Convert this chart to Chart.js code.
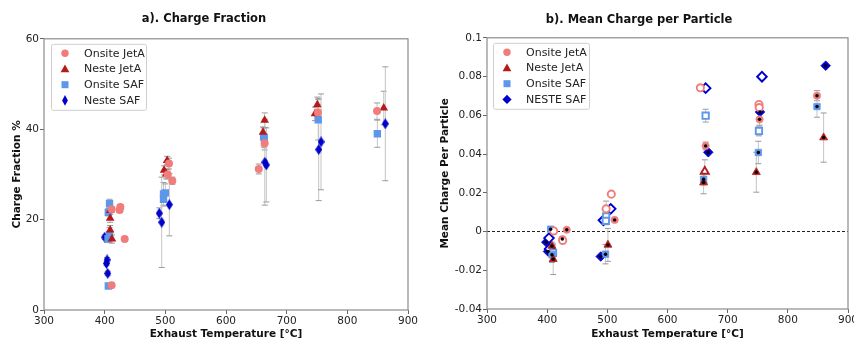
<!DOCTYPE html>
<html lang="en">
<head>
  <meta charset="UTF-8">
  <title>Charge Fraction / Mean Charge per Particle</title>
  <script src="https://cdn.jsdelivr.net/npm/chart.js@4.4.1/dist/chart.umd.min.js"></script>
  <style>
    html, body { margin: 0; padding: 0; background: #fff; overflow: hidden; width: 854px; height: 338px; }
    canvas { position: absolute; top: 0; }
  </style>
</head>
<body>

  <canvas id="cf" width="430" height="346" style="left:0"></canvas>
  <canvas id="mc" width="430" height="346" style="left:430px"></canvas>

  <script>

  // a) charge fraction in %
  const cfOnsiteJetAX = [411.5, 424.7, 425.8, 433, 411.5, 504, 506, 511.5, 654, 663.7, 751.6, 849];
  const cfOnsiteJetAY = [22.3, 22.1, 22.8, 15.7, 5.5, 30.0, 32.4, 28.6, 31.2, 36.9, 43.7, 44.0];
  const cfOnsiteJetAErr = [0.6, 0.5, 0.5, 0.4, 0.3, 1.0, 1.2, 0.8, 1.1, 1.5, 1.8, 1.8];

  const cfNesteJetAX = [409, 409, 409, 412, 498, 501.6, 503, 661, 663.7, 746.7, 750.5, 860];
  const cfNesteJetAY = [22.0, 20.3, 17.7, 15.7, 30.9, 30.1, 33.1, 39.3, 42.0, 43.4, 45.4, 44.7];
  const cfNesteJetAErr = [0.8, 0.9, 1.0, 0.9, 1.0, 1.1, 0.9, 1.2, 1.6, 1.5, 1.7, 3.7];

  const cfOnsiteSafX = [408, 406, 408, 405.5, 406, 497, 500, 497, 662, 663, 752, 849.5];
  const cfOnsiteSafY = [23.5, 21.6, 16.6, 15.8, 5.3, 25.7, 25.9, 24.5, 38.3, 38.1, 42.1, 39.0];
  const cfOnsiteSafErr = [1.0, 0.8, 1.7, 0.8, 0.3, 2.5, 2.0, 1.5, 2.0, 2.2, 4.5, 3.0];

  const cfNesteSafX = [400, 404, 403, 405, 490, 494, 506.6, 664, 666.5, 752.8, 756.6, 862.6];
  const cfNesteSafY = [16.1, 11.1, 10.3, 8.1, 21.4, 19.4, 23.3, 32.7, 32.1, 35.5, 37.2, 41.2];
  const cfNesteSafErr = [0.5, 0.5, 0.5, 0.5, 1.2, 10.0, 6.9, 9.5, 8.2, 11.3, 10.6, 12.6];

  // b) mean charge per particle, open = hollow marker
  const mcOnsiteJetAX = [410.8, 425.2, 425.8, 432.6, 498, 506.6, 512.2, 654.6, 663.4, 752, 752.5, 753, 848.5];
  const mcOnsiteJetAY = [0.0003, -0.0039, -0.0046, 0.0009, 0.0117, 0.0193, 0.006, 0.0742, 0.0442, 0.0656, 0.064, 0.0579, 0.0701];
  const mcOnsiteJetAOpen = [1, 0, 1, 0, 1, 1, 0, 1, 0, 1, 1, 0, 0];
  const mcOnsiteJetAErr = [0.001, 0.001, 0.001, 0.001, 0.004, 0.001, 0.001, 0.001, 0.002, 0.001, 0.001, 0.003, 0.0026];

  const mcNesteJetAX = [408, 410, 501, 660, 662, 747.6, 859.5];
  const mcNesteJetAY = [-0.0075, -0.0143, -0.0069, 0.0253, 0.031, 0.0306, 0.0485];
  const mcNesteJetAOpen = [0, 0, 0, 0, 1, 0, 0];
  const mcNesteJetAErr = [0.002, 0.0079, 0.0085, 0.0058, 0.006, 0.0103, 0.0127];

  const mcOnsiteSafX = [405.8, 409.7, 408, 497, 498, 497.5, 660, 663.4, 752, 751, 848.5];
  const mcOnsiteSafY = [0.0012, -0.011, -0.012, -0.0117, 0.0077, 0.0055, 0.027, 0.0598, 0.0519, 0.0408, 0.0645];
  const mcOnsiteSafOpen = [0, 1, 0, 0, 1, 1, 0, 1, 1, 0, 0];
  const mcOnsiteSafErr = [0.001, 0.004, 0.004, 0.005, 0.003, 0.002, 0.003, 0.0033, 0.0025, 0.0058, 0.0055];

  const mcNesteSafX = [398.6, 403, 401.4, 404, 489, 493.5, 505.6, 663.4, 667.8, 757, 753.7, 862.9];
  const mcNesteSafY = [-0.0055, -0.0034, -0.0103, -0.009, -0.0129, 0.0058, 0.0117, 0.074, 0.0409, 0.0799, 0.0617, 0.0856];
  const mcNesteSafOpen = [0, 1, 0, 1, 0, 1, 1, 1, 0, 1, 0, 0];

  const FONT = '"DejaVu Sans", Verdana, sans-serif';
  const C_ONSITE_JETA = '#F07C7C';
  const C_NESTE_JETA = '#B41A1A';
  const C_ONSITE_SAF = '#5C97EC';
  const C_NESTE_SAF = '#0000CD';

  function pts(xs, ys) {
    return xs.map((x, i) => ({ x: x, y: ys[i] }));
  }

  // matplotlib style thin diamond as an image point style
  function thinDiamond(w, h, color) {
    const c = document.createElement('canvas');
    c.width = w; c.height = h;
    const g = c.getContext('2d');
    g.fillStyle = color;
    g.beginPath();
    g.moveTo(w / 2, 0); g.lineTo(w, h / 2); g.lineTo(w / 2, h); g.lineTo(0, h / 2);
    g.closePath();
    g.fill();
    return c;
  }

  function marker(ctx, style, x, y, r, color) {
    ctx.fillStyle = color;
    ctx.beginPath();
    if (style === 'circle') {
      ctx.arc(x, y, r, 0, Math.PI * 2);
    } else if (style === 'triangle') {
      ctx.moveTo(x, y - r); ctx.lineTo(x + r * 0.95, y + r * 0.7); ctx.lineTo(x - r * 0.95, y + r * 0.7);
    } else if (style === 'rect') {
      ctx.rect(x - r, y - r, 2 * r, 2 * r);
    } else if (style === 'thin') {
      ctx.moveTo(x, y - r * 1.3); ctx.lineTo(x + r * 0.7, y); ctx.lineTo(x, y + r * 1.3); ctx.lineTo(x - r * 0.7, y);
    } else {
      ctx.moveTo(x, y - r * 1.1); ctx.lineTo(x + r * 1.1, y); ctx.lineTo(x, y + r * 1.1); ctx.lineTo(x - r * 1.1, y);
    }
    ctx.closePath();
    ctx.fill();
  }

  const frame = {
    id: 'frame',
    afterDatasetsDraw(chart) {
      const { ctx, chartArea: a } = chart;
      ctx.save();
      ctx.strokeStyle = '#8c8c8c';
      ctx.lineWidth = 1.2;
      ctx.strokeRect(a.left, a.top, a.right - a.left, a.bottom - a.top);
      ctx.restore();
    }
  };

  const errorBars = {
    id: 'errorBars',
    beforeDatasetsDraw(chart) {
      const ctx = chart.ctx, ys = chart.scales.y;
      ctx.save();
      ctx.lineWidth = 1;
      chart.data.datasets.forEach((ds, i) => {
        if (!ds.err) return;
        chart.getDatasetMeta(i).data.forEach((pt, j) => {
          const v = ds.data[j].y, e = ds.err[j];
          const top = ys.getPixelForValue(v + e), bot = ys.getPixelForValue(v - e);
          ctx.strokeStyle = '#c4c4c4';
          ctx.beginPath();
          ctx.moveTo(pt.x, top); ctx.lineTo(pt.x, bot);
          ctx.stroke();
          ctx.strokeStyle = '#9a9a9a';
          ctx.beginPath();
          ctx.moveTo(pt.x - 3, top); ctx.lineTo(pt.x + 3, top);
          ctx.moveTo(pt.x - 3, bot); ctx.lineTo(pt.x + 3, bot);
          ctx.stroke();
        });
      });
      ctx.restore();
    }
  };

  const zeroLine = {
    id: 'zeroLine',
    beforeDatasetsDraw(chart) {
      const { ctx, chartArea: a } = chart;
      const y0 = chart.scales.y.getPixelForValue(0);
      ctx.save();
      ctx.strokeStyle = '#222';
      ctx.lineWidth = 1;
      ctx.setLineDash([3, 2]);
      ctx.beginPath();
      ctx.moveTo(a.left, y0); ctx.lineTo(a.right, y0);
      ctx.stroke();
      ctx.restore();
    }
  };

  // black centre dot on the filled markers of panel b
  const centreDots = {
    id: 'centreDots',
    afterDatasetsDraw(chart) {
      const ctx = chart.ctx;
      ctx.save();
      ctx.fillStyle = '#000';
      chart.data.datasets.forEach((ds, i) => {
        if (!ds.open) return;
        chart.getDatasetMeta(i).data.forEach((pt, j) => {
          if (ds.open[j]) return;
          ctx.beginPath();
          ctx.arc(pt.x, pt.y, 1.7, 0, Math.PI * 2);
          ctx.fill();
        });
      });
      ctx.restore();
    }
  };

  const boxLegend = {
    id: 'boxLegend',
    afterDraw(chart, args, opts) {
      const { ctx, chartArea: a } = chart;
      const bx = a.left + opts.dx, by = a.top + 5;
      ctx.save();
      ctx.fillStyle = 'rgba(255,255,255,0.85)';
      ctx.strokeStyle = '#cfcfcf';
      ctx.lineWidth = 1;
      ctx.beginPath();
      ctx.roundRect(bx + 0.5, by + 0.5, opts.w, 66, 2);
      ctx.fill();
      ctx.stroke();
      ctx.font = '11px ' + FONT;
      ctx.textBaseline = 'middle';
      chart.data.datasets.forEach((ds, i) => {
        const y = by + 9.5 + i * 15.7;
        marker(ctx, ds.legendStyle, bx + 14, y, ds.legendSize, ds.borderColor);
        ctx.fillStyle = '#222';
        ctx.fillText(ds.label, bx + 33, y + 0.5);
      });
      ctx.restore();
    }
  };

  function axes(yOpts, yWidth, yTitle, yTitlePad, xHeight) {
    const tickFont = { family: FONT, size: 10.5 };
    const titleFont = { family: FONT, size: 10.5, weight: 'bold' };
    const grid = { display: true, drawOnChartArea: false, drawTicks: true, tickLength: 4, color: '#666' };
    return {
      x: {
        type: 'linear', min: 300, max: 900,
        grid: grid, border: { display: false },
        ticks: { stepSize: 100, font: tickFont, color: '#222', padding: 1, maxRotation: 0 },
        title: { display: true, text: 'Exhaust Temperature [°C]', font: titleFont, color: '#111', padding: { top: 0, bottom: 5 } },
        afterFit(s) { s.height = xHeight; }
      },
      y: Object.assign({
        type: 'linear',
        grid: grid, border: { display: false },
        title: { display: true, text: yTitle, font: titleFont, color: '#111', padding: { top: yTitlePad, bottom: 0 } },
        afterFit(s) { s.width = yWidth; }
      }, yOpts)
    };
  }

  function titleOpts(text, top, bottom) {
    return {
      display: true, text: text, color: '#111',
      font: { family: FONT, size: 11.5, weight: 'bold' },
      padding: { top: top, bottom: bottom }
    };
  }

  // ---- a) Charge Fraction
  const cfDatasets = [
    { label: 'Onsite JetA', data: pts(cfOnsiteJetAX, cfOnsiteJetAY), err: cfOnsiteJetAErr,
      pointStyle: 'circle', pointRadius: 4, backgroundColor: C_ONSITE_JETA, borderColor: C_ONSITE_JETA,
      legendStyle: 'circle', legendSize: 3.7 },
    { label: 'Neste JetA', data: pts(cfNesteJetAX, cfNesteJetAY), err: cfNesteJetAErr,
      pointStyle: 'triangle', pointRadius: 5, backgroundColor: C_NESTE_JETA, borderColor: C_NESTE_JETA,
      legendStyle: 'triangle', legendSize: 4.6 },
    { label: 'Onsite SAF', data: pts(cfOnsiteSafX, cfOnsiteSafY), err: cfOnsiteSafErr,
      pointStyle: 'rect', pointRadius: 5.2, backgroundColor: C_ONSITE_SAF, borderColor: C_ONSITE_SAF,
      legendStyle: 'rect', legendSize: 3.5 },
    { label: 'Neste SAF', data: pts(cfNesteSafX, cfNesteSafY), err: cfNesteSafErr,
      pointStyle: thinDiamond(7, 11, C_NESTE_SAF), pointRadius: 5, backgroundColor: C_NESTE_SAF, borderColor: C_NESTE_SAF,
      legendStyle: 'thin', legendSize: 4.1 }
  ];

  new Chart(document.getElementById('cf'), {
    type: 'scatter',
    data: { datasets: cfDatasets },
    options: {
      responsive: false, animation: false,
      layout: { padding: { left: 0, right: 22, top: 0, bottom: 0 } },
      elements: { point: { borderWidth: 0 } },
      scales: axes({ min: 0, max: 60, ticks: { stepSize: 20, font: { family: FONT, size: 10.5 }, color: '#222', padding: 1 } },
                   44, 'Charge Fraction %', 10.5, 36),
      plugins: {
        legend: { display: false },
        tooltip: { enabled: false },
        title: titleOpts('a). Charge Fraction', 12, 13),
        boxLegend: { dx: 7, w: 95 }
      }
    },
    plugins: [errorBars, frame, boxLegend]
  });

  // ---- b) Mean Charge per Particle
  function openStyle(open, color) {
    return {
      pointBackgroundColor: open.map(o => o ? '#fff' : color),
      pointBorderColor: color,
      pointBorderWidth: open.map(o => o ? 1.9 : 0.8)
    };
  }

  const mcDatasets = [
    Object.assign({ label: 'Onsite JetA', data: pts(mcOnsiteJetAX, mcOnsiteJetAY), err: mcOnsiteJetAErr, open: mcOnsiteJetAOpen,
      pointStyle: 'circle', pointRadius: 3.6, borderColor: C_ONSITE_JETA, backgroundColor: C_ONSITE_JETA,
      legendStyle: 'circle', legendSize: 3.7 }, openStyle(mcOnsiteJetAOpen, C_ONSITE_JETA)),
    Object.assign({ label: 'Neste JetA', data: pts(mcNesteJetAX, mcNesteJetAY), err: mcNesteJetAErr, open: mcNesteJetAOpen,
      pointStyle: 'triangle', pointRadius: 4.6, borderColor: C_NESTE_JETA, backgroundColor: C_NESTE_JETA,
      legendStyle: 'triangle', legendSize: 4.6 }, openStyle(mcNesteJetAOpen, C_NESTE_JETA)),
    Object.assign({ label: 'Onsite SAF', data: pts(mcOnsiteSafX, mcOnsiteSafY), err: mcOnsiteSafErr, open: mcOnsiteSafOpen,
      pointStyle: 'rect', pointRadius: 4.5, borderColor: C_ONSITE_SAF, backgroundColor: C_ONSITE_SAF,
      legendStyle: 'rect', legendSize: 3.5 }, openStyle(mcOnsiteSafOpen, C_ONSITE_SAF)),
    Object.assign({ label: 'NESTE SAF', data: pts(mcNesteSafX, mcNesteSafY), open: mcNesteSafOpen,
      pointStyle: 'rectRot', pointRadius: 4.8, borderColor: C_NESTE_SAF, backgroundColor: C_NESTE_SAF,
      legendStyle: 'diamond', legendSize: 4.2 }, openStyle(mcNesteSafOpen, C_NESTE_SAF))
  ];

  new Chart(document.getElementById('mc'), {
    type: 'scatter',
    data: { datasets: mcDatasets },
    options: {
      responsive: false, animation: false,
      layout: { padding: { left: 0, right: 12, top: 0, bottom: 0 } },
      scales: axes({ min: -0.04, max: 0.1,
                     ticks: { stepSize: 0.02, font: { family: FONT, size: 10.5 }, color: '#222', padding: 1,
                              callback: v => String(+v.toFixed(2)) } },
                   57, 'Mean Charge Per Particle', 9.4, 37),
      plugins: {
        legend: { display: false },
        tooltip: { enabled: false },
        title: titleOpts('b). Mean Charge per Particle', 13, 11),
        boxLegend: { dx: 6, w: 96 }
      }
    },
    plugins: [zeroLine, errorBars, centreDots, frame, boxLegend]
  });

  </script>
</body>
</html>
